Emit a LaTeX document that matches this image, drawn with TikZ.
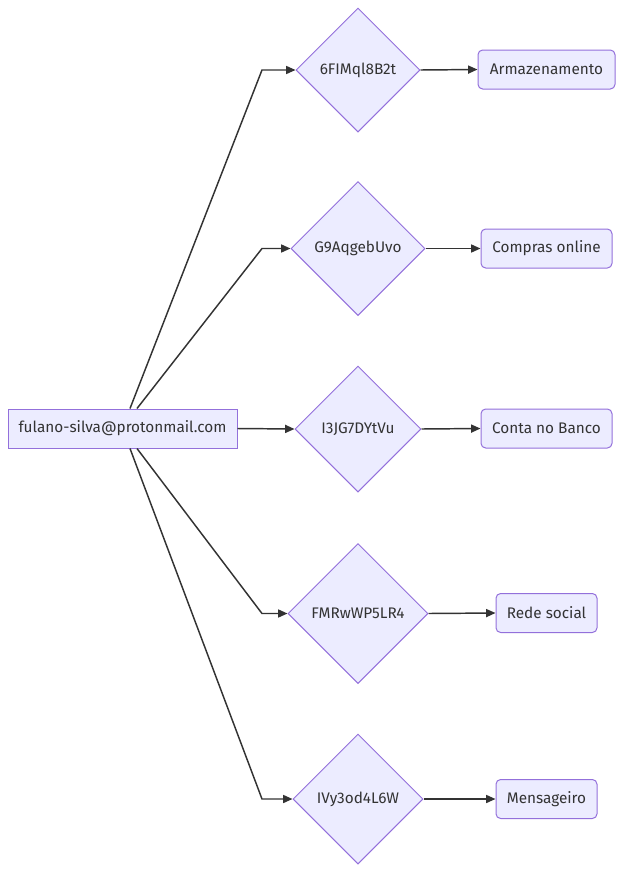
\documentclass[tikz,border=0pt]{standalone}
\usepackage{fontspec}
\setmainfont{Fira Sans}
\usetikzlibrary{shapes.geometric,arrows.meta}
\definecolor{nodefill}{HTML}{ECECFF}
\definecolor{nodeline}{HTML}{9370DB}
\definecolor{edgeline}{HTML}{333333}
\definecolor{txt}{HTML}{333333}
\begin{document}
\begin{tikzpicture}[x=0.75pt,y=-0.75pt,
  every node/.style={font=\fontsize{11.5}{13}\selectfont, text=txt},
  srcbox/.style={draw=nodeline, fill=nodefill, line width=0.75pt, minimum width=229*0.75pt, minimum height=39*0.75pt, inner sep=0pt},
  leafbox/.style={draw=nodeline, fill=nodefill, line width=0.75pt, rounded corners=3.5pt, minimum height=39*0.75pt, inner sep=0pt},
  keyd/.style={draw=nodeline, fill=nodefill, line width=0.75pt, diamond, aspect=1, inner sep=0pt, minimum width=#1*0.75pt, minimum height=#1*0.75pt},
  link/.style={draw=edgeline, line width=1.1pt, -{Triangle[length=7pt,width=6pt]}},
]
\useasboundingbox (0,0) rectangle (623,872);
\node[srcbox] (src) at (122.5,428.5) {fulano-silva@protonmail.com};

\node[keyd=124] (d1) at (358,70) {6FIMql8B2t};
\node[keyd=134] (d2) at (358,248.5) {G9AqgebUvo};
\node[keyd=126] (d3) at (358,429) {I3JG7DYtVu};
\node[keyd=140] (d4) at (358,613.5) {FMRwWP5LR4};
\node[keyd=130] (d5) at (358,799) {IVy3od4L6W};

\node[leafbox, minimum width=137*0.75pt] (r1) at (546.5,69.5) {Armazenamento};
\node[leafbox, minimum width=131*0.75pt] (r2) at (546.5,248.5) {Compras online};
\node[leafbox, minimum width=131*0.75pt] (r3) at (546.5,428.5) {Conta no Banco};
\node[leafbox, minimum width=101*0.75pt] (r4) at (546.5,613) {Rede social};
\node[leafbox, minimum width=101*0.75pt] (r5) at (546.5,799) {Mensageiro};

\coordinate (b1) at (262,70);
\coordinate (b2) at (262,248.5);
\coordinate (b4) at (262,613.5);
\coordinate (b5) at (262,799);

\draw[link] ([xshift=7.5*0.75pt]src.north) -- (b1) -- (d1.west);
\draw[link] ([xshift=14.5*0.75pt]src.north) -- (b2) -- (d2.west);
\draw[link] (src.east) -- (d3.west);
\draw[link] ([xshift=14.5*0.75pt]src.south) -- (b4) -- (d4.west);
\draw[link] ([xshift=7.5*0.75pt]src.south) -- (b5) -- (d5.west);

\draw[link] (d1.east) -- (r1.west);
\draw[link] (d2.east) -- (r2.west);
\draw[link] (d3.east) -- (r3.west);
\draw[link] (d4.east) -- (r4.west);
\draw[link] (d5.east) -- (r5.west);
\end{tikzpicture}
\end{document}
